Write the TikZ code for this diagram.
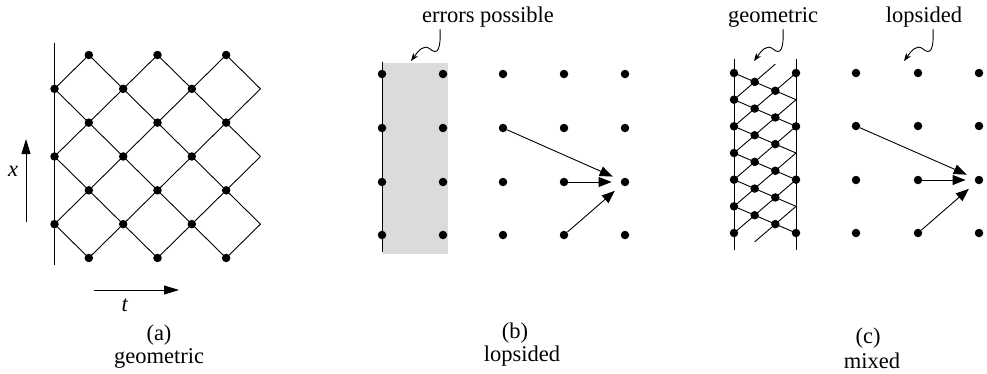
\documentclass[tikz,border=0pt]{standalone}
\usepackage{fontspec}
\setmainfont{Liberation Serif}
\newfontfamily\lserif{Liberation Serif}
\usetikzlibrary{arrows.meta,calc}
\begin{document}
\begin{tikzpicture}[x=1pt,y=-1pt,
  dot/.style={circle,fill=black,inner sep=0pt,minimum size=8.5pt},
  edge/.style={line width=0.9pt},
  axarrow/.style={line width=0.9pt,-{Triangle[length=15pt,width=9pt]}},
  bigarrow/.style={line width=0.9pt,-{Triangle[length=13pt,width=10pt]},shorten >=9pt},
  squig/.style={line width=0.9pt,-{Stealth[length=8pt,width=6pt]}},
  lbl/.style={font=\lserif\fontsize{22.5}{27}\selectfont,inner sep=0pt,anchor=base},
  zone/.style={fill=black!14,draw=none,inner sep=0pt,anchor=north west,minimum width=65pt,minimum height=191pt}]
\useasboundingbox (0,0) rectangle (987,373);

% ---------------- panel (a) ----------------
\foreach \i in {0,...,6}{
  \foreach \j in {0,...,6}{
    \pgfmathtruncatemacro\odd{mod(\i+\j,2)}
    \ifnum\odd=1
      \coordinate (a-\i-\j) at ({54.5+34.33*\i},{55+33.83*\j});
    \fi
  }
}
\coordinate (aT) at (54.5,43);
\coordinate (aB) at (54.5,265);
\draw[edge] (aT) -- (aB);
\foreach \i in {0,...,6}{
  \foreach \j in {0,...,5}{
    \pgfmathtruncatemacro\odd{mod(\i+\j,2)}
    \pgfmathtruncatemacro\ip{\i+1}
    \pgfmathtruncatemacro\im{\i-1}
    \pgfmathtruncatemacro\jp{\j+1}
    \ifnum\odd=1
      \ifnum\i<6 \draw[edge] (a-\i-\j) -- (a-\ip-\jp); \fi
      \ifnum\i>0 \draw[edge] (a-\i-\j) -- (a-\im-\jp); \fi
    \fi
  }
}
\foreach \i in {0,...,5}{
  \foreach \j in {0,...,6}{
    \pgfmathtruncatemacro\odd{mod(\i+\j,2)}
    \ifnum\odd=1
      \node[dot] (da-\i-\j) at (a-\i-\j) {};
    \fi
  }
}
\coordinate (xs) at (26,222);
\coordinate (xe) at (26,139);
\draw[axarrow] (xs) -- (xe);
\node[lbl] (xlab) at (13,176) {\textit{x}};
\coordinate (ts) at (94,290);
\coordinate (te) at (179,290);
\draw[axarrow] (ts) -- (te);
\node[lbl] (tlab) at (125,311) {\textit{t}};
\node[lbl] (capa) at (159,340) {(a)};
\node[lbl] (capag) at (159,363) {geometric};

% ---------------- panel (b) ----------------
\node[zone] (errzone) at (383,63) {};
\coordinate (bT) at (382,62);
\coordinate (bB) at (382,252);
\draw[edge] (bT) -- (bB);
\foreach \c/\x in {1/382,2/443,3/503,4/564,5/625}{
  \foreach \r/\y in {1/74,2/128,3/182,4/235}{
    \node[dot] (b-\c-\r) at (\x,\y) {};
  }
}
\draw[bigarrow] (b-3-2) -- (b-5-3);
\draw[bigarrow] (b-4-3) -- (b-5-3);
\draw[bigarrow] (b-4-4) -- (b-5-3);
\node[lbl] (errlab) at (488,22) {errors possible};
\coordinate (sqb) at (440,29);
\draw[squig] (sqb) .. controls +(1,19) and +(8,7) .. ++(-10,20)
  .. controls +(-6,-5) and +(8,-11) .. ++(-19,12);
\node[lbl] (capb) at (515,338) {(b)};
\node[lbl] (capbl) at (522,361) {lopsided};

% ---------------- panel (c) ----------------
\foreach \k in {0,...,6}{
  \coordinate (cL-\k) at (734,{73+26.667*\k});
  \coordinate (cR-\k) at (796,{73+26.667*\k});
}
\coordinate (cLbot) at (734,259.67);
\coordinate (cRtop) at (796,46.33);
\coordinate (cLT) at (734,59);
\coordinate (cLB) at (734,250);
\coordinate (cRT) at (796,59);
\coordinate (cRB) at (796,250);
\draw[edge] (cLT) -- (cLB);
\draw[edge] (cRT) -- (cRB);
\foreach \k in {0,...,5}{
  \pgfmathtruncatemacro\kp{\k+1}
  \draw[edge] (cL-\k) -- (cR-\kp);
}
\draw[edge] (cL-1) -- ($(cL-1)!2/3!(cRtop)$);
\foreach \j in {2,...,6}{
  \pgfmathtruncatemacro\jm{\j-2}
  \draw[edge] (cL-\j) -- (cR-\jm);
}
\draw[edge] ($(cLbot)!1/3!(cR-5)$) -- (cR-5);
\foreach \k in {0,...,6}{
  \node[dot] (cl-\k) at (cL-\k) {};
}
\foreach \k in {0,2,4,6}{
  \node[dot] (cr-\k) at (cR-\k) {};
}
\foreach \k in {0,...,5}{
  \pgfmathtruncatemacro\kp{\k+1}
  \node[dot] (cm-\k) at ($(cL-\k)!1/3!(cR-\kp)$) {};
  \node[dot] (ct-\k) at ($(cL-\k)!2/3!(cR-\kp)$) {};
}
\foreach \c/\x in {1/856,2/918,3/979}{
  \foreach \r/\y in {1/73,2/126,3/180,4/233}{
    \node[dot] (c-\c-\r) at (\x,\y) {};
  }
}
\draw[bigarrow] (c-1-2) -- (c-3-3);
\draw[bigarrow] (c-2-3) -- (c-3-3);
\draw[bigarrow] (c-2-4) -- (c-3-3);
\node[lbl] (geolab) at (773,22) {geometric};
\node[lbl] (loplab) at (924,22) {lopsided};
\coordinate (sqc1) at (783,29);
\draw[squig] (sqc1) .. controls +(1,19) and +(8,7) .. ++(-10,20)
  .. controls +(-6,-5) and +(8,-11) .. ++(-19,12);
\coordinate (sqc2) at (933,29);
\draw[squig] (sqc2) .. controls +(1,19) and +(8,7) .. ++(-10,20)
  .. controls +(-6,-5) and +(8,-11) .. ++(-19,12);
\node[lbl] (capc) at (868,343) {(c)};
\node[lbl] (capcm) at (872,368) {mixed};
\end{tikzpicture}
\end{document}
